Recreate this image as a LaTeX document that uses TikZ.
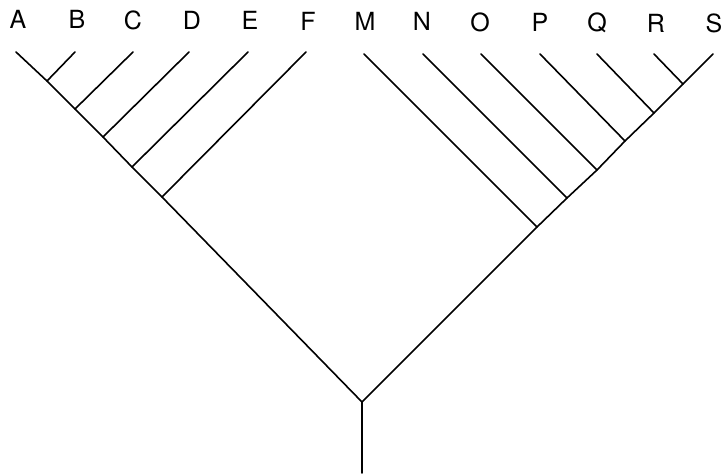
\documentclass[tikz,border=0pt]{standalone}
\usepackage{fontspec}
\setmainfont{TeX Gyre Heros}
\usetikzlibrary{positioning}
\tikzset{
  taxon/.style={anchor=base,inner sep=0pt,font=\fontsize{25}{30}\selectfont},
  branch/.style={line width=1.6pt,line cap=round,line join=miter}
}

\begin{document}
\begin{tikzpicture}[x=1pt,y=-1pt]
        \useasboundingbox (0,0) rectangle (723,475);
        \coordinate (root) at (362,402);
        \coordinate (stem) at (362,473);
        \coordinate (jB) at (47,81);
        \coordinate (jC) at (75,109);
        \coordinate (jD) at (103,137);
        \coordinate (jE) at (132,167);
        \coordinate (jF) at (162,197);
        \coordinate (jM) at (537,227);
        \coordinate (jN) at (567,198);
        \coordinate (jO) at (597,170);
        \coordinate (jP) at (625,141);
        \coordinate (jQ) at (654,113);
        \coordinate (jR) at (683,84);
        \coordinate (tA) at (16,52);
        \coordinate (tB) at (75,52);
        \coordinate (tC) at (133,52);
        \coordinate (tD) at (189,52);
        \coordinate (tE) at (248,52);
        \coordinate (tF) at (306,52);
        \coordinate (tM) at (364,54);
        \coordinate (tN) at (423,54);
        \coordinate (tO) at (481,54);
        \coordinate (tP) at (540,54);
        \coordinate (tQ) at (597,54);
        \coordinate (tR) at (654,54);
        \coordinate (tS) at (713,54);
        \node[taxon] (lA) at (18,28) {A};
        \node[taxon] (lB) at (77,28) {B};
        \node[taxon] (lC) at (133,29) {C};
        \node[taxon] (lD) at (192,29) {D};
        \node[taxon] (lE) at (250,29) {E};
        \node[taxon] (lF) at (308,30) {F};
        \node[taxon] (lM) at (365,30) {M};
        \node[taxon] (lN) at (422,30) {N};
        \node[taxon] (lO) at (480,31) {O};
        \node[taxon] (lP) at (540,31) {P};
        \node[taxon] (lQ) at (597,31) {Q};
        \node[taxon] (lR) at (656,32) {R};
        \node[taxon] (lS) at (714,32) {S};
        \draw[branch] (stem) -- (root);
        \draw[branch] (tA) -- (jB) -- (jC) -- (jD) -- (jE) -- (jF) -- (root)
                -- (jM) -- (jN) -- (jO) -- (jP) -- (jQ) -- (jR) -- (tS);
        \draw[branch] (jB) -- (tB);
        \draw[branch] (jC) -- (tC);
        \draw[branch] (jD) -- (tD);
        \draw[branch] (jE) -- (tE);
        \draw[branch] (jF) -- (tF);
        \draw[branch] (jM) -- (tM);
        \draw[branch] (jN) -- (tN);
        \draw[branch] (jO) -- (tO);
        \draw[branch] (jP) -- (tP);
        \draw[branch] (jQ) -- (tQ);
        \draw[branch] (jR) -- (tR);
      \end{tikzpicture}
\end{document}
